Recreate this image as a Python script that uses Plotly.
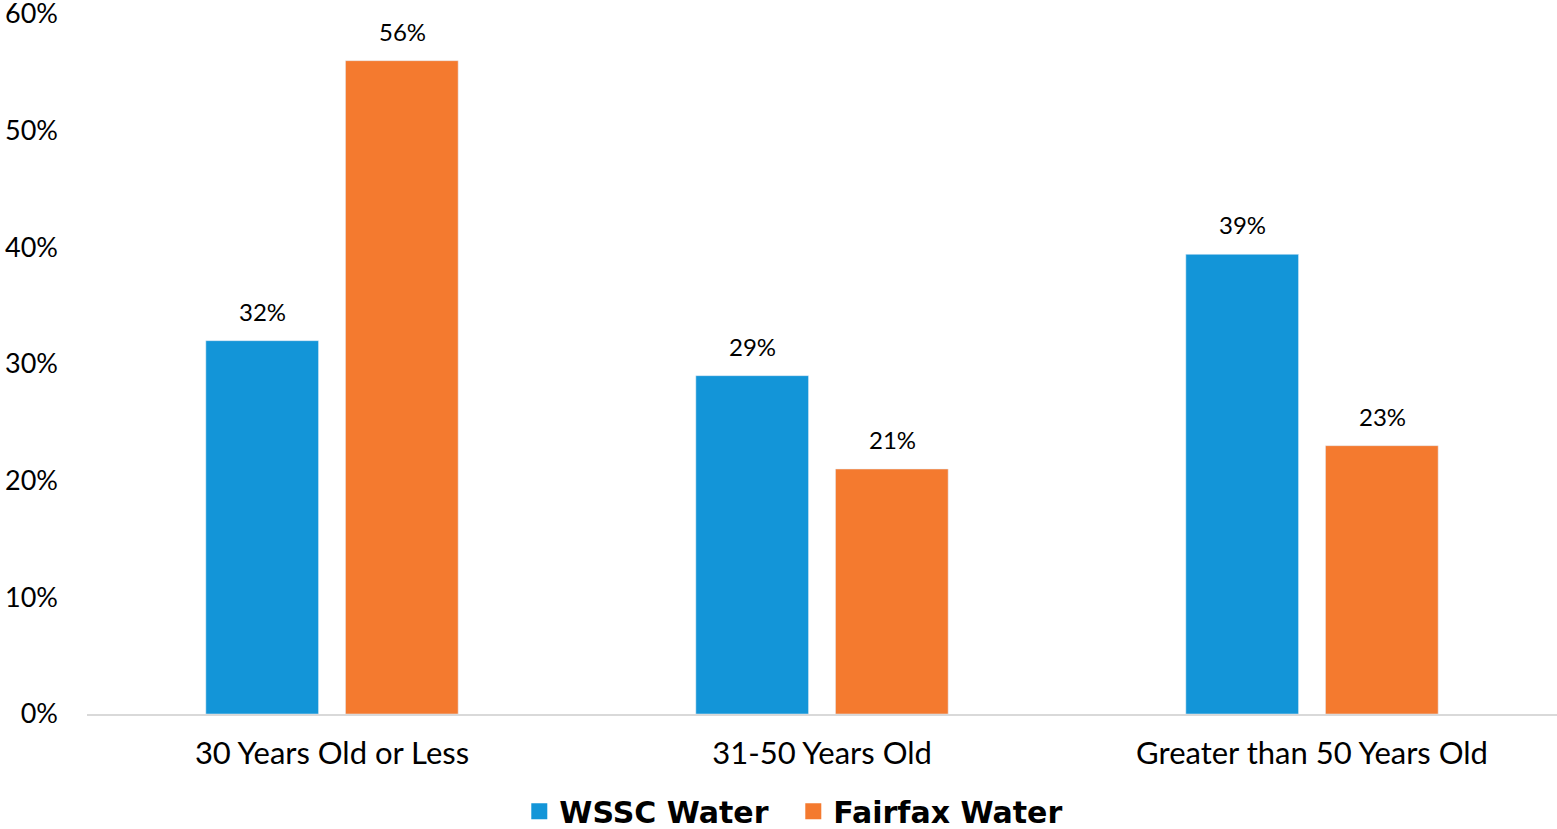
import plotly.graph_objects as go

categories = ["30 Years Old or Less", "31-50 Years Old", "Greater than 50 Years Old"]
wssc = [32, 29, 39.4]
fairfax = [56, 21, 23]
series_names = ["WSSC Water", "Fairfax Water"]
tick_vals = [0, 10, 20, 30, 40, 50, 60]
tick_text = ["0%", "10%", "20%", "30%", "40%", "50%", "60%"]

FONT = "Lato, 'Open Sans', sans-serif"
colors = ["#1395D8", "#F47A2F"]

fig = go.Figure()
for name, vals, col in zip(series_names, [wssc, fairfax], colors):
    fig.add_trace(go.Bar(x=categories, y=vals, name=name, marker_color=col,
                         showlegend=False))
# legend entries with larger square swatches
for name, col in zip(series_names, colors):
    fig.add_trace(go.Scatter(x=[None], y=[None], mode="markers", name=name,
                             marker=dict(symbol="square", size=16, color=col)))

# data labels above bars
for vals, shift in [(wssc, -70), (fairfax, 70)]:
    for c, v in zip(categories, vals):
        fig.add_annotation(x=c, y=v, text=f"{v:.0f}%", showarrow=False,
                           xshift=shift, yshift=13, yanchor="bottom",
                           font=dict(size=24, color="#000", family=FONT))

fig.update_layout(
    width=1557, height=829,
    margin=dict(l=87, r=0, t=14, b=115, autoexpand=False),
    paper_bgcolor="white", plot_bgcolor="white",
    barmode="group", bargap=0.43, bargroupgap=0.193,
    font=dict(family=FONT, size=26, color="#000"),
    legend=dict(orientation="h", xref="container", x=0.5095, xanchor="center",
                yref="container", y=0.0215, yanchor="middle",
                font=dict(size=30, family="'DejaVu Sans', sans-serif", weight="bold",
                          color="#000"),
                traceorder="normal", itemwidth=30, entrywidth=229),
    showlegend=True,
)
fig.update_xaxes(showline=True, linecolor="#D9D9D9", linewidth=2, ticks="",
                 tickfont=dict(size=31), showgrid=False, automargin=False,
                 ticklabelstandoff=11)
fig.update_yaxes(range=[0, 60], tickvals=tick_vals, ticktext=tick_text, showgrid=False,
                 zeroline=False, showline=False, tickfont=dict(size=27),
                 ticklabelstandoff=28, automargin=False, ticklabeloverflow="allow")
# remove the default 8px page margin so the figure fills the window exactly
fig.write_html("out.html", config={"displayModeBar": False},
               post_script="document.body.style.margin='0';")
